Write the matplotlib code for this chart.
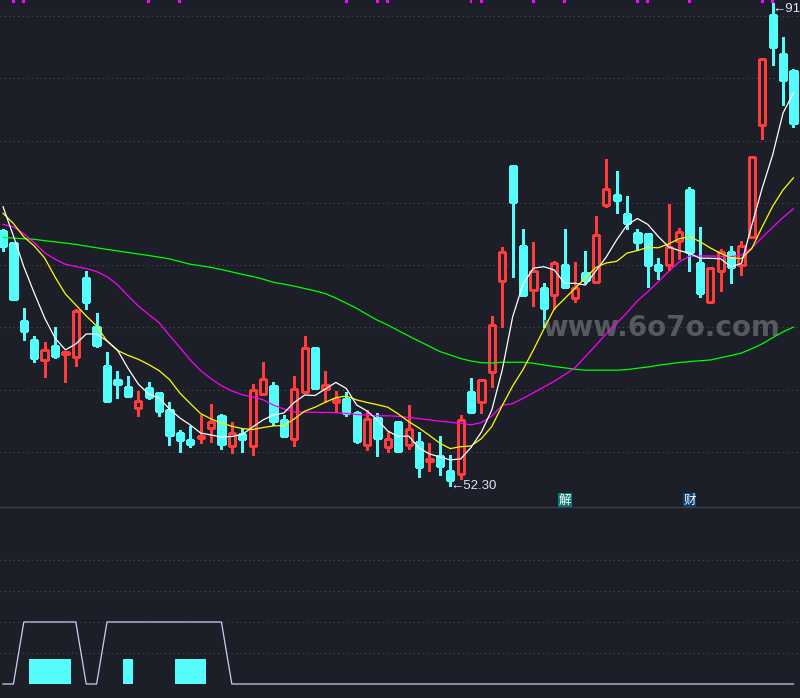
import numpy as np
import matplotlib.pyplot as plt
from matplotlib.patches import Rectangle

# daily candles (price)
opens = [72.73, 71.79, 65.50, 63.98, 62.35, 63.52, 62.83, 62.59, 68.96, 65.02,
         61.89, 60.77, 60.20, 58.49, 60.12, 59.72, 58.36, 56.51, 55.95, 56.13,
         56.94, 57.88, 55.49, 56.45, 55.49, 59.62, 60.28, 57.55, 56.00, 59.83,
         63.34, 60.07, 58.98, 59.24, 58.09, 55.52, 57.74, 55.41, 57.42, 55.57,
         55.79, 54.24, 54.66, 53.46, 53.24, 59.80, 58.98, 61.43, 68.69, 77.95,
         71.50, 67.97, 68.15, 67.57, 70.00, 67.33, 69.36, 68.66, 74.79, 75.62,
         74.07, 72.57, 72.47, 70.00, 70.00, 71.93, 76.02, 70.16, 67.01, 69.54,
         71.04, 69.98, 72.23, 81.22, 90.08, 86.94, 85.58]
highs = [72.89, 71.85, 66.55, 64.32, 63.82, 65.02, 63.05, 66.49, 69.54, 66.15,
         63.01, 61.49, 61.09, 59.88, 60.63, 59.75, 59.02, 56.75, 57.10, 57.98,
         58.84, 58.04, 57.37, 56.89, 60.44, 62.21, 60.61, 57.93, 61.09, 64.30,
         63.38, 61.49, 59.88, 59.83, 58.30, 58.36, 58.09, 56.67, 57.47, 58.73,
         56.57, 55.68, 56.27, 54.74, 57.93, 60.93, 60.87, 65.93, 71.47, 78.00,
         72.89, 71.85, 68.56, 70.32, 72.89, 70.24, 71.12, 73.94, 78.51, 77.55,
         75.52, 72.89, 72.50, 70.59, 74.90, 72.97, 76.29, 73.05, 69.74, 71.26,
         71.53, 71.95, 78.67, 86.52, 91.07, 88.31, 85.74]
lows = [71.15, 67.25, 64.00, 62.24, 61.03, 62.56, 60.63, 61.91, 66.49, 63.44,
        59.05, 59.34, 59.43, 57.90, 59.27, 57.90, 55.55, 55.01, 55.41, 55.73,
        55.81, 55.25, 54.93, 55.01, 54.77, 59.55, 57.13, 56.17, 55.49, 59.78,
        60.02, 59.00, 58.28, 57.90, 55.73, 55.14, 54.69, 55.01, 55.01, 55.25,
        53.00, 53.48, 53.16, 52.30, 52.79, 58.15, 58.09, 60.23, 65.05, 69.06,
        67.55, 66.73, 65.05, 66.44, 68.20, 67.05, 68.53, 68.61, 74.63, 74.15,
        72.89, 71.20, 68.26, 68.88, 69.60, 70.51, 69.54, 67.46, 67.01, 67.94,
        68.58, 69.22, 72.23, 80.14, 86.08, 82.87, 81.06]
closes = [71.55, 67.29, 64.72, 62.56, 63.17, 62.72, 63.01, 66.31, 67.05, 63.60,
          59.10, 60.47, 59.51, 59.08, 59.40, 58.30, 56.35, 55.97, 55.65, 56.27,
          57.39, 55.65, 56.49, 56.05, 59.94, 60.82, 57.50, 56.29, 60.02, 63.31,
          60.15, 60.34, 59.24, 58.09, 55.89, 57.61, 56.13, 56.03, 55.06, 56.83,
          53.80, 54.40, 53.88, 52.74, 57.53, 58.20, 60.74, 65.18, 71.02, 75.08,
          67.62, 69.49, 66.57, 70.14, 68.26, 68.13, 68.82, 72.39, 76.08, 75.24,
          73.40, 71.87, 70.00, 69.62, 71.42, 72.65, 71.07, 67.78, 69.74, 71.02,
          69.86, 71.50, 78.67, 86.52, 87.53, 84.88, 81.43]

# moving average lines as shown on the chart
ma5 = [74.69, 72.34, 69.87, 67.76, 65.76, 64.15, 63.19, 63.67, 64.47, 64.47,
       63.91, 63.19, 61.74, 60.46, 59.65, 59.33, 58.45, 57.73, 57.17, 56.52,
       56.36, 56.20, 56.24, 56.40, 57.00, 57.57, 57.97, 58.13, 58.97, 59.57,
       59.53, 60.06, 60.58, 60.10, 58.77, 58.29, 57.57, 56.68, 56.23, 56.28,
       55.32, 54.84, 54.60, 54.36, 54.44, 55.36, 56.60, 58.37, 61.58, 65.84,
       68.48, 69.75, 69.87, 69.61, 68.54, 68.54, 68.40, 69.53, 70.65, 72.02,
       73.22, 73.74, 73.26, 72.30, 71.46, 71.17, 70.95, 70.55, 70.55, 70.51,
       69.87, 70.13, 73.22, 76.19, 78.84, 82.21, 83.82]
ma10 = [74.16, 73.34, 72.26, 71.54, 70.57, 69.05, 67.68, 66.80, 65.92, 65.11,
        63.91, 63.15, 62.76, 62.44, 62.02, 61.53, 60.82, 59.73, 58.89, 58.08,
        57.65, 57.33, 57.06, 56.88, 56.80, 56.96, 57.09, 57.12, 57.65, 58.27,
        58.59, 59.00, 59.35, 59.49, 59.18, 58.97, 58.79, 58.59, 58.05, 57.44,
        56.92, 56.33, 55.70, 55.27, 55.42, 55.48, 56.07, 57.05, 58.72, 60.29,
        61.62, 63.19, 64.87, 66.48, 67.31, 68.14, 68.97, 69.81, 70.17, 70.30,
        70.96, 71.17, 71.42, 71.39, 71.70, 72.11, 72.28, 71.89, 71.38, 70.94,
        70.59, 70.52, 71.34, 73.08, 74.72, 76.03, 77.01]
ma20 = [73.26, 73.08, 72.51, 71.80, 70.99, 70.47, 70.07, 69.88, 69.72, 69.48,
        69.07, 68.43, 67.55, 66.72, 66.04, 65.39, 64.36, 63.39, 62.39, 61.53,
        60.88, 60.32, 59.90, 59.59, 59.41, 59.19, 58.76, 58.45, 58.21, 58.19,
        58.19, 58.17, 58.16, 58.09, 58.01, 57.95, 57.90, 57.90, 57.86, 57.76,
        57.68, 57.57, 57.47, 57.38, 57.29, 57.18, 57.36, 57.89, 58.75, 58.88,
        59.30, 59.75, 60.21, 60.67, 61.20, 61.76, 62.66, 63.56, 64.49, 65.32,
        66.18, 67.13, 67.87, 68.66, 69.50, 70.24, 70.71, 70.73, 70.73, 70.71,
        70.68, 70.80, 71.38, 72.23, 73.03, 73.82, 74.52]
ma60 = [72.22, 72.17, 72.11, 72.07, 71.96, 71.86, 71.77, 71.66, 71.52, 71.39,
        71.26, 71.14, 71.01, 70.89, 70.77, 70.64, 70.50, 70.28, 70.07, 69.95,
        69.81, 69.64, 69.45, 69.26, 69.09, 68.87, 68.62, 68.47, 68.31, 68.12,
        67.93, 67.71, 67.35, 66.95, 66.53, 66.04, 65.57, 65.19, 64.74, 64.31,
        63.89, 63.48, 63.06, 62.79, 62.50, 62.30, 62.17, 62.14, 62.20, 62.20,
        62.20, 62.12, 61.98, 61.86, 61.75, 61.64, 61.56, 61.56, 61.56, 61.56,
        61.61, 61.72, 61.82, 61.95, 62.07, 62.18, 62.25, 62.32, 62.38, 62.56,
        62.74, 62.94, 63.29, 63.68, 64.17, 64.64, 65.02]

# signal days (magenta ticks at the top)
signal_days = [1, 2, 14, 17, 33, 36, 37, 45, 46, 51, 54, 61, 62, 66, 73, 74]
event_days = [54, 66]
event_labels = ['解', '财']

# lower indicator
ind_line = [0, 0, 2, 2, 2, 2, 2, 2, 0, 0, 2, 2, 2, 2, 2, 2, 2, 2, 2, 2,
            2, 2, 0, 0, 0, 0, 0, 0, 0, 0, 0, 0, 0, 0, 0, 0, 0, 0, 0, 0,
            0, 0, 0, 0, 0, 0, 0, 0, 0, 0, 0, 0, 0, 0, 0, 0, 0, 0, 0, 0,
            0, 0, 0, 0, 0, 0, 0, 0, 0, 0, 0, 0, 0, 0, 0, 0, 0]
bar_days = [3, 4, 5, 6, 12, 17, 18, 19]
bar_vals = [0.8, 0.8, 0.8, 0.8, 0.8, 0.8, 0.8, 0.8]

BG = '#1c1f27'
GRID = '#4a4e58'
UP = '#ff3c3c'
DOWN = '#54fcfc'

fig = plt.figure(figsize=(8, 6.98), dpi=100, facecolor=BG)
ax = fig.add_axes([0, 191 / 698, 1, 507 / 698])
ax2 = fig.add_axes([0, 0, 1, 191 / 698])

x = np.arange(len(closes))
ax.set_xlim(-0.29, 76.63)
ax.set_ylim(50.58, 91.28)
ax.axis('off')

for v in [55, 60, 65, 70, 75, 80, 85, 90]:
    ax.axhline(v, color=GRID, lw=0.8, ls=(0, (1, 3)), zorder=0)

# candles
w = 0.6
for i in x:
    o, h, l, c = opens[i], highs[i], lows[i], closes[i]
    col = UP if c >= o else DOWN
    ax.vlines(i, l, h, color=col, lw=0.9, zorder=2, antialiased=False)
    lo, hi = min(o, c), max(o, c)
    face = BG if c >= o else col
    ax.add_patch(Rectangle((i - w / 2, lo), w, max(hi - lo, 0.05), facecolor=face,
                           edgecolor=col, lw=0.9, zorder=3, antialiased=False))

# moving averages
ax.plot(x, ma60, color='#00ff00', lw=0.9, zorder=4)
ax.plot(x, ma20, color='#ff00ff', lw=0.9, zorder=4)
ax.plot(x, ma10, color='#ffff00', lw=0.9, zorder=4)
ax.plot(x, ma5, color='#ffffff', lw=0.9, zorder=4)

# signal ticks on the top edge
ax.bar(signal_days, 0.22, bottom=91.28 - 0.22, width=0.27, color='#ff00ff', zorder=5)

# watermark
ax.text(63.3, 64.95, 'www.6o7o.com', color='#5e6068', fontsize=20, fontweight='bold',
        ha='center', va='center', alpha=0.9, zorder=3.5)

# extremes
ax.text(43, lows[43], '←%.2f' % lows[43], color='#dce8f8', fontsize=9.5,
        family=['Liberation Sans', 'DejaVu Sans'], ha='left', va='center', zorder=6)
ax.text(74, highs[74], '←%.2f' % highs[74], color='#dce8f8', fontsize=9.5,
        family=['Liberation Sans', 'DejaVu Sans'], ha='left', va='top', zorder=6)

# event tags above the separator
tag_colors = ['#0b7a74', '#0b3d6e']
for d, s, bc in zip(event_days, event_labels, tag_colors):
    ax.text(d, 51.14, s, color='white', fontsize=9, family=['Noto Sans CJK SC', 'DejaVu Sans'],
            ha='center', va='center', zorder=6,
            bbox=dict(boxstyle='square,pad=0.05', facecolor=bc, edgecolor='none'))

# lower panel
ax2.set_facecolor(BG)
ax2.set_xlim(-0.29, 76.63)
ax2.set_ylim(-0.452, 5.71)
ax2.set_xticks([])
ax2.set_yticks([])
for s in ['left', 'right', 'bottom']:
    ax2.spines[s].set_visible(False)
ax2.spines['top'].set_color('#3d4049')
ax2.spines['top'].set_linewidth(1)
for v in [1, 2, 3, 4]:
    ax2.axhline(v, color=GRID, lw=0.8, ls=(0, (1, 3)), zorder=0)
ax2.bar(bar_days, bar_vals, width=1.0, color=DOWN, zorder=2)
ax2.plot(x, ind_line, color='#ccccf4', lw=0.9, zorder=3)

fig.savefig('out.png', dpi=100, facecolor=BG)
